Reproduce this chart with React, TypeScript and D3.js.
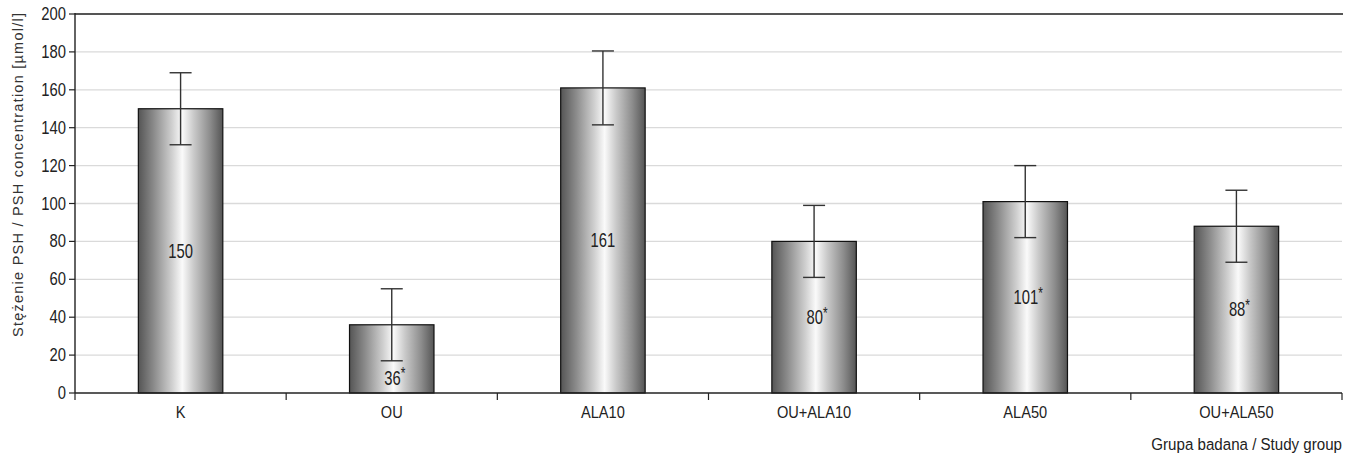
import React from "react";
import * as d3 from "d3";

const categories = ["K", "OU", "ALA10", "OU+ALA10", "ALA50", "OU+ALA50"];
const values = [150, 36, 161, 80, 101, 88];
const errors = [19, 19, 19.5, 19, 19, 19];
const valueLabels = ["150", "36", "161", "80", "101", "88"];
const starred = [false, true, false, true, true, true];
const yTicks = [0, 20, 40, 60, 80, 100, 120, 140, 160, 180, 200];

const W = 1346;
const H = 455;
const M = { left: 75, right: 4, top: 14, bottom: 62 };
const FONT = "'Liberation Sans', Arial, sans-serif";

type TxtProps = {
  x: number;
  y: number;
  sx: number;
  size: number;
  anchor?: string;
  children: React.ReactNode;
};

function Txt({ x, y, sx, size, anchor = "middle", children }: TxtProps) {
  return (
    <text
      transform={`translate(${x},${y}) scale(${sx},1)`}
      textAnchor={anchor}
      dominantBaseline="central"
      fontFamily={FONT}
      fontSize={size}
      fill="#222"
    >
      {children}
    </text>
  );
}

export default function App() {
  const x = d3
    .scaleBand<string>()
    .domain(categories)
    .range([M.left, W - M.right])
    .paddingInner(0.6)
    .paddingOuter(0.3);
  const band = d3.scaleBand<string>().domain(categories).range([M.left, W - M.right]);
  const y = d3.scaleLinear().domain([0, 200]).range([H - M.bottom, M.top]);
  const y0 = y(0);
  const boundaries = d3.range(categories.length + 1).map((i) => M.left + i * band.step());
  const capW = 22;

  return (
    <svg width={W} height={H} style={{ position: "absolute", left: 0, top: 0 }}>
      <defs>
        <linearGradient id="barGrad" x1="0" x2="1" y1="0" y2="0">
          <stop offset="0%" stopColor="#555555" />
          <stop offset="18%" stopColor="#8a8a8a" />
          <stop offset="40%" stopColor="#d0d0d0" />
          <stop offset="52%" stopColor="#fafafa" />
          <stop offset="66%" stopColor="#c8c8c8" />
          <stop offset="85%" stopColor="#8c8c8c" />
          <stop offset="100%" stopColor="#555555" />
        </linearGradient>
      </defs>
      <rect x={0} y={0} width={W} height={H} fill="#fff" />
      {/* gridlines */}
      {yTicks.slice(1, -1).map((t) => (
        <line key={t} x1={M.left} x2={W - M.right} y1={y(t)} y2={y(t)} stroke="#dadada" strokeWidth={1.3} />
      ))}
      {/* top border */}
      <line x1={M.left} x2={W - M.right + 1} y1={y(200)} y2={y(200)} stroke="#555" strokeWidth={2} />
      {/* bars */}
      {categories.map((c, i) => (
        <rect
          key={c}
          x={x(c)!}
          y={y(values[i])}
          width={x.bandwidth()}
          height={y0 - y(values[i])}
          fill="url(#barGrad)"
          stroke="#111"
          strokeWidth={1.2}
        />
      ))}
      {/* error bars */}
      {categories.map((c, i) => {
        const cx = x(c)! + x.bandwidth() / 2;
        const top = y(values[i] + errors[i]);
        const bot = y(values[i] - errors[i]);
        return (
          <g key={c} stroke="#333" strokeWidth={1.4}>
            <line x1={cx} x2={cx} y1={top} y2={bot} />
            <line x1={cx - capW / 2} x2={cx + capW / 2} y1={top} y2={top} />
            <line x1={cx - capW / 2} x2={cx + capW / 2} y1={bot} y2={bot} />
          </g>
        );
      })}
      {/* value labels */}
      {categories.map((c, i) => {
        const cx = x(c)! + x.bandwidth() / 2;
        const ly = Math.max(y(values[i] / 2), y(values[i] - errors[i]) + 17);
        return (
          <Txt key={c} x={cx + (starred[i] ? 3 : 0)} y={ly} sx={0.74} size={20}>
            {valueLabels[i]}
            {starred[i] && (
              <tspan fontSize={16} dy={-4}>
                *
              </tspan>
            )}
          </Txt>
        );
      })}
      {/* y axis */}
      <line x1={M.left} x2={M.left} y1={M.top - 1} y2={y0} stroke="#222" strokeWidth={1.4} />
      {yTicks.map((t) => (
        <g key={t}>
          <line x1={M.left - 6} x2={M.left} y1={y(t)} y2={y(t)} stroke="#222" strokeWidth={1.2} />
          <Txt x={M.left - 9} y={y(t)} sx={0.8} size={18.5} anchor="end">
            {t}
          </Txt>
        </g>
      ))}
      {/* x axis */}
      <line x1={M.left} x2={W - M.right} y1={y0} y2={y0} stroke="#222" strokeWidth={1.4} />
      {boundaries.map((b, i) => (
        <line key={i} x1={b} x2={b} y1={y0} y2={y0 + 7} stroke="#222" strokeWidth={1.2} />
      ))}
      {categories.map((c) => (
        <Txt key={c} x={band(c)! + band.bandwidth() / 2} y={y0 + 19} sx={0.86} size={17}>
          {c}
        </Txt>
      ))}
      {/* axis titles */}
      <Txt x={W - M.right} y={y0 + 51} sx={0.9} size={16.8} anchor="end">
        Grupa badana / Study group
      </Txt>
      <text
        transform={`translate(18, 175) rotate(-90)`}
        textAnchor="middle"
        dominantBaseline="central"
        fontFamily={FONT}
        fontSize={14.5}
        fill="#333"
        textLength={324}
        lengthAdjust="spacing"
      >
        Stężenie PSH / PSH concentration [µmol/l]
      </text>
    </svg>
  );
}
